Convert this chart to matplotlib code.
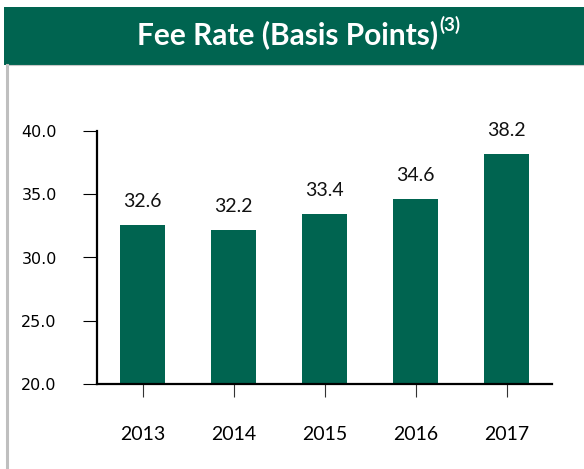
import matplotlib
matplotlib.use("Agg")
import matplotlib.pyplot as plt
from matplotlib.patches import Rectangle
from matplotlib.lines import Line2D

# data
years = ["2013", "2014", "2015", "2016", "2017"]
fee_rate = [32.6, 32.2, 33.4, 34.6, 38.2]
yticks = [20.0, 25.0, 30.0, 35.0, 40.0]

green = "#006450"
W, H = 584, 469

fig = plt.figure(figsize=(W / 100, H / 100), dpi=100)
fig.patch.set_facecolor("white")

# header band
fig.patches.append(Rectangle((4 / W, 1 - 65 / H), 1 - 4 / W, 58 / H,
                             transform=fig.transFigure, facecolor=green,
                             edgecolor="none", zorder=0))
# grey frame line on the left and under the header
fig.lines.append(Line2D([6.5 / W, 6.5 / W], [0, 1 - 65 / H],
                        transform=fig.transFigure, color="#bfbfbf", lw=2.2))
fig.lines.append(Line2D([6.5 / W, 1], [1 - 65.5 / H, 1 - 65.5 / H],
                        transform=fig.transFigure, color="#c8c8c8", lw=0.8))

title = fig.text(137 / W, 1 - 35 / H, "Fee Rate (Basis Points)", color="white",
                 fontsize=21.5, fontweight="bold", family="Lato",
                 ha="left", va="center")
fig.canvas.draw()
bb = title.get_window_extent()
fig.text((bb.x1 + 1) / W, 1 - 25 / H, "(3)", color="white", fontsize=13.5,
         fontweight="bold", family="Lato", ha="left", va="center")

ax = fig.add_axes([97 / W, 1 - 384 / H, (552 - 97) / W, (384 - 131) / H])
x = range(len(years))
bars = ax.bar(x, fee_rate, width=0.484, color=green, zorder=2)

for xi, v in zip(x, fee_rate):
    ax.annotate(f"{v:.1f}", (xi, v), xytext=(0, 13), textcoords="offset points",
                ha="center", va="baseline", fontsize=14, family="Lato",
                color="#111111")

ax.set_xlim(-0.5, len(years) - 0.5)
ax.set_ylim(20, 40)
ax.set_yticks(yticks)
ax.set_yticklabels([f"{t:.1f}" for t in yticks], fontsize=11.5,
                   family="DejaVu Sans")
ax.set_xticks(list(x))
ax.set_xticklabels(years, fontsize=14, family="Lato")

for s in ["top", "right"]:
    ax.spines[s].set_visible(False)
for s in ["left", "bottom"]:
    ax.spines[s].set_linewidth(1.6)
    ax.spines[s].set_color("black")

ax.tick_params(axis="y", direction="out", length=10, width=0.8, pad=19,
               colors="black")
ax.tick_params(axis="x", direction="out", length=9, width=0.8, pad=21,
               colors="black")
ax.tick_params(axis="x", color="#333333")

fig.savefig("out.png", dpi=100)
